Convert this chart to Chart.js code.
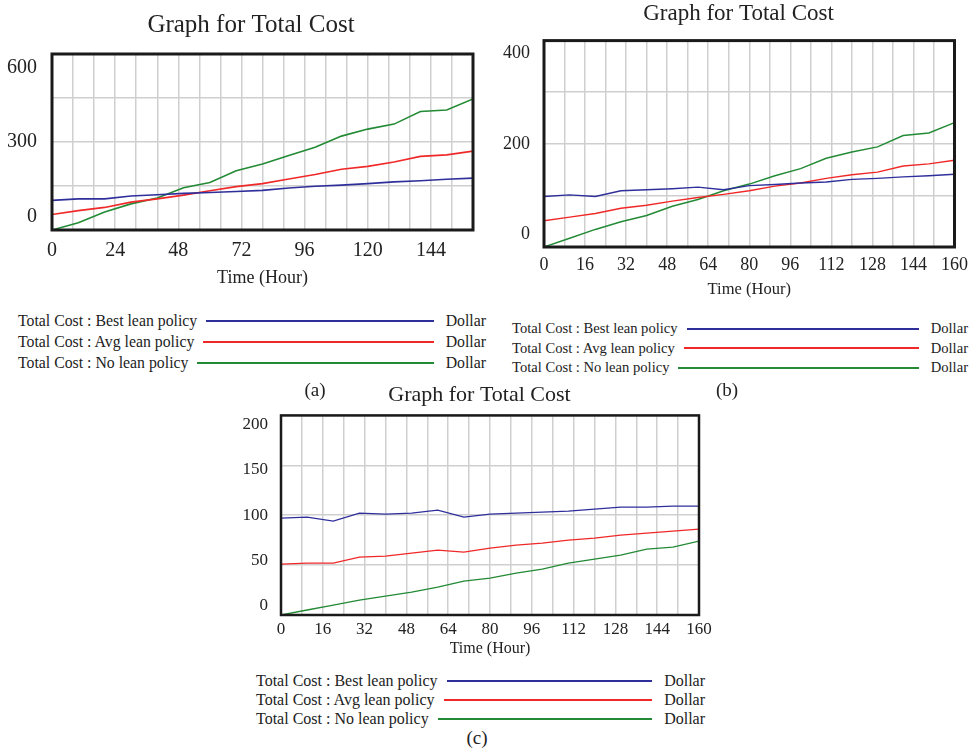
<!DOCTYPE html>
<html>
<head>
<meta charset="utf-8">
<script src="https://cdn.jsdelivr.net/npm/chart.js@4.4.0/dist/chart.umd.min.js"></script>
<style>
body { margin:0; background:#fff; width:971px; height:750px; position:relative; overflow:hidden; font-family:"Liberation Serif", serif; color:#222; }
canvas { position:absolute; }
.legend { position:absolute; }
.row { display:flex; align-items:center; white-space:nowrap; }
.row .line { flex:1; height:2px; margin:0 12px 0 9px; }
.cap { position:absolute; width:40px; text-align:center; font-size:19px; line-height:22px; }
</style>
</head>
<body>
<canvas id="chartA" width="496" height="300" style="left:0px;top:0px"></canvas>
<canvas id="chartB" width="485" height="300" style="left:490px;top:0px"></canvas>
<canvas id="chartC" width="488" height="280" style="left:230px;top:380px"></canvas>

<div class="legend" id="legendA" style="left:18px;top:310px;width:468px;font-size:15.8px"></div>
<div class="legend" id="legendB" style="left:512px;top:319px;width:456px;font-size:14.6px"></div>
<div class="legend" id="legendC" style="left:256px;top:671px;width:449px;font-size:16px"></div>

<div class="cap" style="left:295px;top:379px">(a)</div>
<div class="cap" style="left:707px;top:379px">(b)</div>
<div class="cap" style="left:457px;top:727px">(c)</div>

<script>
"use strict"

// time axis, one value every 10 hours
const hours = [0, 10, 20, 30, 40, 50, 60, 70, 80, 90, 100, 110, 120, 130, 140, 150, 160];
const seriesNames = ["Total Cost : Best lean policy", "Total Cost : Avg lean policy", "Total Cost : No lean policy"];
const unitLabel = "Dollar";

// (a)
const bestA = [101, 106, 106, 116, 120, 125, 128, 131, 135, 143, 149, 153, 158, 164, 168, 173, 177];
const avgA = [53, 66, 77, 95, 106, 119, 134, 148, 158, 174, 189, 207, 217, 232, 251, 256, 269];
const noA = [0, 25, 61, 89, 109, 144, 162, 202, 225, 254, 282, 320, 344, 361, 404, 409, 447];
const yTicksA = [0, 300, 600];
const xTicksA = [0, 24, 48, 72, 96, 120, 144];

// (b)
const bestB = [98, 101, 98, 109, 111, 113, 116, 111, 119, 121, 124, 126, 131, 133, 136, 138, 141];
const avgB = [51, 58, 65, 75, 81, 89, 96, 102, 109, 118, 124, 133, 140, 145, 157, 161, 168];
const noB = [0, 17, 34, 49, 61, 79, 92, 109, 122, 138, 152, 172, 184, 194, 216, 221, 241];
const yTicksB = [0, 200, 400];
const xTicksB = [0, 16, 32, 48, 64, 80, 96, 112, 128, 144, 160];

// (c)
const bestC = [97, 98, 94, 102, 101, 102, 105, 98, 101, 102, 103, 104, 106, 108, 108, 109, 109];
const avgC = [51, 52, 52, 58, 59, 62, 65, 63, 67, 70, 72, 75, 77, 80, 82, 84, 86];
const noC = [0, 5, 10, 15, 19, 23, 28, 34, 37, 42, 46, 52, 56, 60, 66, 68, 74];
const yTicksC = [0, 50, 100, 150, 200];
const xTicksC = [0, 16, 32, 48, 64, 80, 96, 112, 128, 144, 160];

const colors = ["#2f2f9c", "#f02828", "#238a35"];
const textColor = "#222";
const gridColor = "#cfcfcf";

function toPoints(values) {
    return values.map((v, i) => ({x: hours[i], y: v}));
}

// black frame round the plot, like vensim does
const framePlugin = {
    id: "frame",
    afterDraw(chart, args, opts) {
        const a = chart.chartArea;
        const ctx = chart.ctx;
        ctx.save();
        ctx.strokeStyle = "#1a1a1a";
        ctx.lineWidth = opts.width;
        ctx.strokeRect(a.left, a.top, a.right - a.left, a.bottom - a.top);
        ctx.restore();
    }
};

// vensim pulls the top and bottom y labels inside the frame
const insetLabels = {
    id: "insetLabels",
    beforeDraw(chart, args, opts) {
        const s = chart.scales.y;
        const items = s.getLabelItems();
        const top = chart.chartArea.top + opts.inset;
        const bottom = chart.chartArea.bottom - opts.inset;
        items.forEach(item => {
            if (item.label === "") return;
            const v = Number(item.label);
            const frac = (v - s.min) / (s.max - s.min);
            item.options.translation[1] = bottom - frac * (bottom - top);
        });
    }
};

function makeChart(id, data, cfg) {
    const datasets = data.map((values, i) => ({
        label: seriesNames[i],
        data: toPoints(values),
        borderColor: colors[i],
        borderWidth: cfg.lineWidth,
        pointRadius: 0,
        tension: 0,
        fill: false
    }));

    const config = {
        type: "line",
        data: {datasets: datasets},
        plugins: [framePlugin, insetLabels],
        options: {
            responsive: false,
            animation: false,
            devicePixelRatio: 1,
            layout: {padding: {left: cfg.padLeft, right: 0, top: 0, bottom: 0}},
            plugins: {
                legend: {display: false},
                tooltip: {enabled: false},
                title: {
                    display: true,
                    text: "Graph for Total Cost",
                    color: textColor,
                    font: {family: "Liberation Serif", size: cfg.titleSize, weight: "normal"},
                    padding: {top: cfg.titleTop, bottom: cfg.titleBottom}
                },
                frame: {width: cfg.frameWidth},
                insetLabels: {inset: cfg.inset}
            },
            scales: {
                x: {
                    type: "linear",
                    min: 0,
                    max: 160,
                    afterFit: s => { s.height = cfg.xHeight; },
                    grid: {color: gridColor, lineWidth: 1.5, drawTicks: false},
                    border: {display: false},
                    ticks: {
                        stepSize: 8,
                        autoSkip: false,
                        maxRotation: 0,
                        padding: cfg.xPad,
                        color: textColor,
                        font: {family: "Liberation Serif", size: cfg.tickSize},
                        callback: v => cfg.xTicks.includes(v) ? String(v) : ""
                    },
                    title: {
                        display: true,
                        text: "Time (Hour)",
                        color: textColor,
                        font: {family: "Liberation Serif", size: cfg.axisTitleSize},
                        padding: {top: 0, bottom: cfg.axisTitleBottom}
                    }
                },
                y: {
                    min: 0,
                    max: cfg.yMax,
                    afterFit: s => { s.width = cfg.yWidth; },
                    grid: {color: gridColor, lineWidth: 1.5, drawTicks: false},
                    border: {display: false},
                    ticks: {
                        stepSize: cfg.yStep,
                        autoSkip: false,
                        padding: cfg.yPad,
                        color: textColor,
                        font: {family: "Liberation Serif", size: cfg.tickSize},
                        callback: v => cfg.yTicks.includes(v) ? String(v) : ""
                    }
                },
                // empty strip on the right so the title centres over the whole graph
                spacer: {
                    position: "right",
                    afterFit: s => { s.width = cfg.rightSpace; },
                    ticks: {display: false},
                    grid: {display: false},
                    border: {display: false}
                }
            }
        }
    };
    return new Chart(document.getElementById(id), config);
}

function renderLegend(chart, id, rowHeight) {
    const box = document.getElementById(id);
    chart.data.datasets.forEach(ds => {
        const row = document.createElement("div");
        row.className = "row";
        row.style.height = rowHeight;
        const name = document.createElement("span");
        name.textContent = ds.label;
        const line = document.createElement("div");
        line.className = "line";
        line.style.background = ds.borderColor;
        const unit = document.createElement("span");
        unit.textContent = unitLabel;
        row.appendChild(name);
        row.appendChild(line);
        row.appendChild(unit);
        box.appendChild(row);
    });
}

const chartA = makeChart("chartA", [bestA, avgA, noA], {
    padLeft: 6, yWidth: 46, yPad: 15, rightSpace: 23, xHeight: 70, xPad: 9,
    titleSize: 25, titleTop: 10, titleBottom: 14, tickSize: 20, axisTitleSize: 18, axisTitleBottom: 11,
    yMax: 600, yStep: 150, yTicks: yTicksA, xTicks: xTicksA, inset: 13.5, lineWidth: 1.6, frameWidth: 3
});
const chartB = makeChart("chartB", [bestB, avgB, noB], {
    padLeft: 12, yWidth: 42, yPad: 14, rightSpace: 19, xHeight: 53, xPad: 7,
    titleSize: 23, titleTop: 0, titleBottom: 13, tickSize: 18, axisTitleSize: 16.5, axisTitleBottom: 0,
    yMax: 400, yStep: 100, yTicks: yTicksB, xTicks: xTicksB, inset: 13, lineWidth: 1.4, frameWidth: 3
});
const chartC = makeChart("chartC", [bestC, avgC, noC], {
    padLeft: 11, yWidth: 40, yPad: 13, rightSpace: 19, xHeight: 45, xPad: 4,
    titleSize: 22, titleTop: 2, titleBottom: 7, tickSize: 17, axisTitleSize: 16, axisTitleBottom: 2,
    yMax: 200, yStep: 50, yTicks: yTicksC, xTicks: xTicksC, inset: 9, lineWidth: 1.3, frameWidth: 2.5
});

renderLegend(chartA, "legendA", "21px");
renderLegend(chartB, "legendB", "19.5px");
renderLegend(chartC, "legendC", "19px");
</script>
</body>
</html>
